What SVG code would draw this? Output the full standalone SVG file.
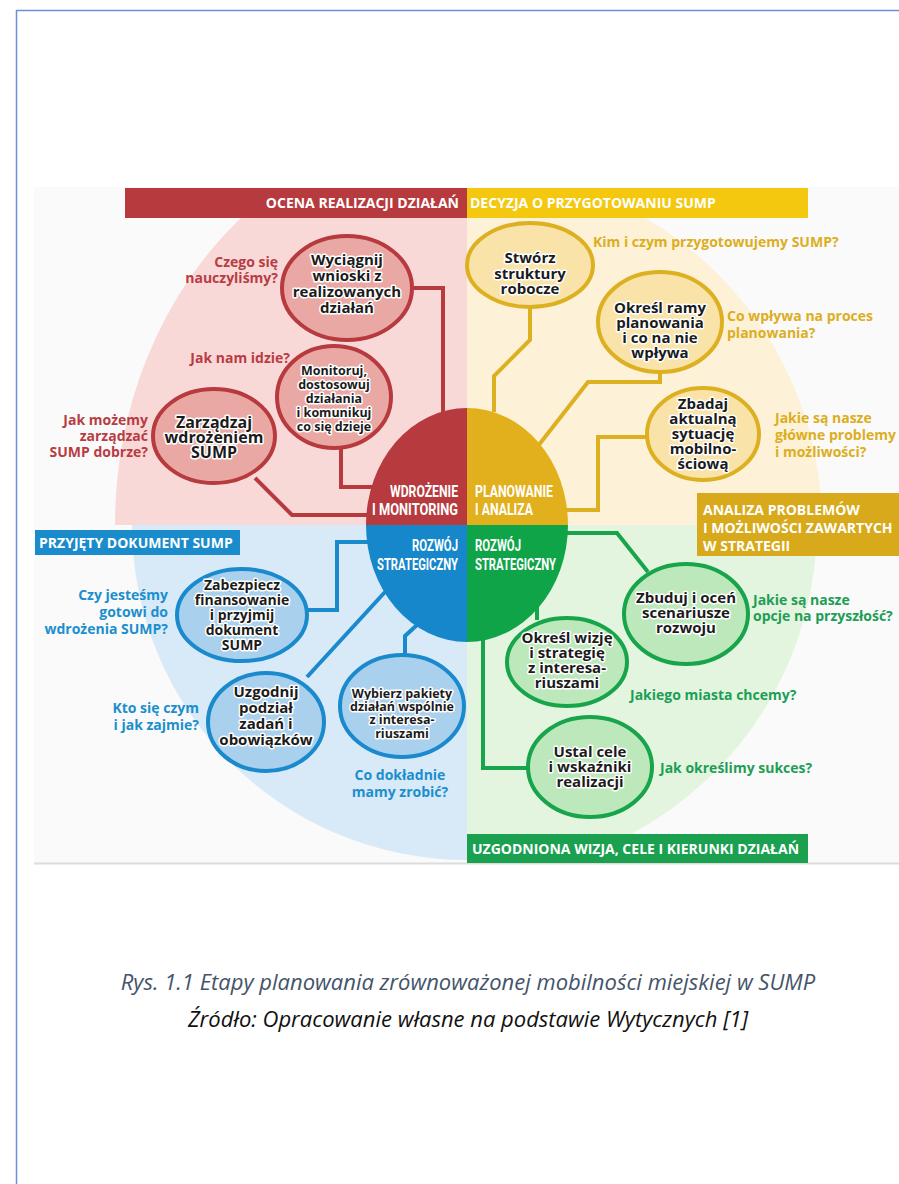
<svg xmlns="http://www.w3.org/2000/svg" width="899" height="1184" viewBox="0 0 899 1184">
<style>
.ban{font-family:"Open Sans","Liberation Sans",sans-serif;font-weight:700;font-size:14px;fill:#fff}
.ctr{font-family:"Roboto","Liberation Sans",sans-serif;font-weight:700;font-size:17px;fill:#fff}
.nt{font-family:"Open Sans","Liberation Sans",sans-serif;font-weight:700;font-size:15px;fill:#1b1b1b;stroke:#fff;stroke-width:3px;paint-order:stroke;stroke-linejoin:round;text-anchor:middle}
.sm{font-size:12.5px}
.q{font-family:"Open Sans","Liberation Sans",sans-serif;font-weight:700;font-size:14px}
.qr{fill:#b83c44}.qy{fill:#dcae1e}.qb{fill:#1b8fcd}.qg{fill:#1d9e55}
.nr{fill:#eaa8a4;stroke:#b73a3e;stroke-width:4}
.ny{fill:#f9e3a8;stroke:#dcb020;stroke-width:4}
.nb{fill:#a9d0ec;stroke:#1a8acd;stroke-width:4}
.ng{fill:#bde8bb;stroke:#17a44a;stroke-width:4}
.cr{fill:none;stroke:#b73a3e;stroke-width:4}
.cy{fill:none;stroke:#dcb020;stroke-width:4}
.cb{fill:none;stroke:#1a8acd;stroke-width:4}
.cg{fill:none;stroke:#17a44a;stroke-width:4}
.cap{font-family:"Open Sans","Liberation Sans",sans-serif;font-style:italic;font-size:22px;text-anchor:middle}
</style>
<rect width="899" height="1184" fill="#fff"/>
<line x1="16" y1="10.5" x2="899" y2="10.5" stroke="#6d8fd6" stroke-width="1.5"/>
<line x1="16.5" y1="10" x2="16.5" y2="1184" stroke="#6d8fd6" stroke-width="1.5"/>
<rect x="34" y="187" width="865" height="676" fill="#fafafa"/>
<line x1="34" y1="863.5" x2="899" y2="863.5" stroke="#dcdcdc" stroke-width="2"/>

<g id="background">
<path d="M467,525 L467,218 L241,218 A352,400 0 0 0 115,525 Z" fill="#f8d9d7"/>
<path d="M467,525 L467,218 L645,218 A355,355 0 0 1 822,525 Z" fill="#fdf1d8"/>
<path d="M467,525 L132,525 A335,335 0 0 0 467,860 Z" fill="#d8e9f7"/>
<path d="M467,525 L817,525 A350,350 0 0 1 629,835 L467,835 Z" fill="#e3f5df"/>
</g>

<g id="banners">
<rect x="125" y="188" width="342" height="30" fill="#b73a3e"/>
<text class="ban" x="459" y="208" text-anchor="end">OCENA REALIZACJI DZIAŁAŃ</text>
<rect x="467" y="188" width="341" height="30" fill="#f3c80f"/>
<text class="ban" x="470" y="208">DECYZJA O PRZYGOTOWANIU SUMP</text>
<rect x="35" y="530" width="205" height="25" fill="#1a8ccc"/>
<text class="ban" x="39" y="548">PRZYJĘTY DOKUMENT SUMP</text>
<rect x="697" y="493" width="202" height="63" fill="#d8a91a"/>
<text class="ban" x="703" y="515">ANALIZA PROBLEMÓW</text>
<text class="ban" x="703" y="533">I MOŻLIWOŚCI ZAWARTYCH</text>
<text class="ban" x="703" y="551">W STRATEGII</text>
<rect x="467" y="834" width="341" height="29" fill="#1aa04f"/>
<text class="ban" x="472" y="854">UZGODNIONA WIZJA, CELE I KIERUNKI DZIAŁAŃ</text>
</g>

<g id="connectors">
<path class="cr" d="M412,288 L443,288 L443,412"/>
<path class="cr" d="M341,447 L341,487 L376,487"/>
<path class="cr" d="M255,478 L292,515 L370,515"/>
<path class="cy" d="M530,307 L530,340 L494,376 L494,412"/>
<path class="cy" d="M660,372 L660,382 L588,382 L538,446"/>
<path class="cy" d="M648,437 L598,437 L598,510 L566,510"/>
<path class="cb" d="M307,610 L337,610 L337,542 L370,542"/>
<path class="cb" d="M307,677 L385,592"/>
<path class="cb" d="M405,655 L405,636 L417,625"/>
<path class="cg" d="M648,572 L617,533 L566,533"/>
<path class="cg" d="M537,600 L537,620"/>
<path class="cg" d="M483,636 L483,768 L530,768"/>
</g>

<g id="center">
<path d="M467,525 L366,525 A101,117 0 0 1 467,408 Z" fill="#b73a3e"/>
<path d="M467,525 L467,408 A101,117 0 0 1 568,525 Z" fill="#e1b01c"/>
<path d="M467,525 L568,525 A101,117 0 0 1 467,642 Z" fill="#10a449"/>
<path d="M467,525 L467,642 A101,117 0 0 1 366,525 Z" fill="#1687cb"/>
<text class="ctr" x="458" y="497" text-anchor="end" textLength="68" lengthAdjust="spacingAndGlyphs">WDROŻENIE</text>
<text class="ctr" x="458" y="515" text-anchor="end" textLength="86" lengthAdjust="spacingAndGlyphs">I MONITORING</text>
<text class="ctr" x="475" y="497" textLength="78" lengthAdjust="spacingAndGlyphs">PLANOWANIE</text>
<text class="ctr" x="475" y="515" textLength="58" lengthAdjust="spacingAndGlyphs">I ANALIZA</text>
<text class="ctr" x="458" y="551" text-anchor="end" textLength="46" lengthAdjust="spacingAndGlyphs">ROZWÓJ</text>
<text class="ctr" x="458" y="570" text-anchor="end" textLength="81" lengthAdjust="spacingAndGlyphs">STRATEGICZNY</text>
<text class="ctr" x="475" y="551" textLength="46" lengthAdjust="spacingAndGlyphs">ROZWÓJ</text>
<text class="ctr" x="475" y="570" textLength="81" lengthAdjust="spacingAndGlyphs">STRATEGICZNY</text>
</g>

<g id="n-wyciagnij">
<ellipse class="nr" cx="347" cy="288" rx="65" ry="52"/>
<text class="nt" x="347" y="265">Wyciągnij</text>
<text class="nt" x="347" y="281">wnioski z</text>
<text class="nt" x="347" y="297">realizowanych</text>
<text class="nt" x="347" y="313">działań</text>
</g>
<g id="n-monitoruj">
<ellipse class="nr" cx="334" cy="397" rx="57" ry="51"/>
<text class="nt sm" x="334" y="375">Monitoruj,</text>
<text class="nt sm" x="334" y="389">dostosowuj</text>
<text class="nt sm" x="334" y="403">działania</text>
<text class="nt sm" x="334" y="417">i komunikuj</text>
<text class="nt sm" x="334" y="431">co się dzieje</text>
</g>
<g id="n-zarzadzaj">
<ellipse class="nr" cx="214" cy="436" rx="61" ry="47"/>
<text class="nt" x="214" y="428" style="font-size:16px">Zarządzaj</text>
<text class="nt" x="214" y="443" style="font-size:16px">wdrożeniem</text>
<text class="nt" x="214" y="458" style="font-size:16px">SUMP</text>
</g>
<g id="n-stworz">
<ellipse class="ny" cx="530" cy="265" rx="63" ry="42"/>
<text class="nt" x="530" y="263">Stwórz</text>
<text class="nt" x="530" y="279">struktury</text>
<text class="nt" x="530" y="294">robocze</text>
</g>
<g id="n-okresl-ramy">
<ellipse class="ny" cx="660" cy="322" rx="62" ry="50"/>
<text class="nt" x="660" y="313">Określ ramy</text>
<text class="nt" x="660" y="328">planowania</text>
<text class="nt" x="660" y="343">i co na nie</text>
<text class="nt" x="660" y="358">wpływa</text>
</g>
<g id="n-zbadaj">
<ellipse class="ny" cx="703" cy="434" rx="56" ry="46"/>
<text class="nt" x="703" y="409">Zbadaj</text>
<text class="nt" x="703" y="424">aktualną</text>
<text class="nt" x="703" y="439">sytuację</text>
<text class="nt" x="703" y="454">mobilno-</text>
<text class="nt" x="703" y="469">ściową</text>
</g>
<g id="n-zabezpiecz">
<ellipse class="nb" cx="242" cy="615" rx="65" ry="46"/>
<text class="nt" x="242" y="590" style="font-size:14px">Zabezpiecz</text>
<text class="nt" x="242" y="605" style="font-size:14px">finansowanie</text>
<text class="nt" x="242" y="620" style="font-size:14px">i przyjmij</text>
<text class="nt" x="242" y="635" style="font-size:14px">dokument</text>
<text class="nt" x="242" y="650" style="font-size:14px">SUMP</text>
</g>
<g id="n-uzgodnij">
<ellipse class="nb" cx="266" cy="722" rx="58" ry="49"/>
<text class="nt" x="266" y="697">Uzgodnij</text>
<text class="nt" x="266" y="713">podział</text>
<text class="nt" x="266" y="729">zadań i</text>
<text class="nt" x="266" y="745">obowiązków</text>
</g>
<g id="n-wybierz">
<ellipse class="nb" cx="402" cy="706" rx="62" ry="51"/>
<text class="nt sm" x="402" y="698">Wybierz pakiety</text>
<text class="nt sm" x="402" y="711">działań wspólnie</text>
<text class="nt sm" x="402" y="724">z interesa-</text>
<text class="nt sm" x="402" y="738">riuszami</text>
</g>
<g id="n-zbuduj">
<ellipse class="ng" cx="686" cy="614" rx="62" ry="50"/>
<text class="nt" x="686" y="603">Zbuduj i oceń</text>
<text class="nt" x="686" y="618">scenariusze</text>
<text class="nt" x="686" y="633">rozwoju</text>
</g>
<g id="n-okresl-wizje">
<ellipse class="ng" cx="567" cy="662" rx="60" ry="44"/>
<text class="nt" x="567" y="643">Określ wizję</text>
<text class="nt" x="567" y="658">i strategię</text>
<text class="nt" x="567" y="673">z interesa-</text>
<text class="nt" x="567" y="688">riuszami</text>
</g>
<g id="n-ustal">
<ellipse class="ng" cx="590" cy="767" rx="62" ry="50"/>
<text class="nt" x="590" y="757">Ustal cele</text>
<text class="nt" x="590" y="772">i wskaźniki</text>
<text class="nt" x="590" y="787">realizacji</text>
</g>

<g id="questions">
<text class="q qr" x="278" y="267" text-anchor="end">Czego się</text>
<text class="q qr" x="278" y="283" text-anchor="end">nauczyliśmy?</text>
<text class="q qr" x="290" y="363" text-anchor="end">Jak nam idzie?</text>
<text class="q qr" x="148" y="425" text-anchor="end">Jak możemy</text>
<text class="q qr" x="148" y="441" text-anchor="end">zarządzać</text>
<text class="q qr" x="148" y="457" text-anchor="end">SUMP dobrze?</text>
<text class="q qy" x="593" y="247">Kim i czym przygotowujemy SUMP?</text>
<text class="q qy" x="727" y="321">Co wpływa na proces</text>
<text class="q qy" x="727" y="338">planowania?</text>
<text class="q qy" x="775" y="423">Jakie są nasze</text>
<text class="q qy" x="775" y="440">główne problemy</text>
<text class="q qy" x="775" y="457">i możliwości?</text>
<text class="q qb" x="168" y="600" text-anchor="end">Czy jesteśmy</text>
<text class="q qb" x="168" y="617" text-anchor="end">gotowi do</text>
<text class="q qb" x="168" y="634" text-anchor="end">wdrożenia SUMP?</text>
<text class="q qb" x="199" y="713" text-anchor="end">Kto się czym</text>
<text class="q qb" x="199" y="730" text-anchor="end">i jak zajmie?</text>
<text class="q qb" x="400" y="780" text-anchor="middle">Co dokładnie</text>
<text class="q qb" x="400" y="797" text-anchor="middle">mamy zrobić?</text>
<text class="q qg" x="753" y="605">Jakie są nasze</text>
<text class="q qg" x="753" y="621">opcje na przyszłość?</text>
<text class="q qg" x="630" y="700">Jakiego miasta chcemy?</text>
<text class="q qg" x="660" y="773">Jak określimy sukces?</text>
</g>

<g id="caption">
<text class="cap" x="468" y="990" fill="#44546a">Rys. 1.1 Etapy planowania zrównoważonej mobilności miejskiej w SUMP</text>
<text class="cap" x="468" y="1027" fill="#111">Źródło: Opracowanie własne na podstawie Wytycznych [1]</text>
</g>
</svg>
